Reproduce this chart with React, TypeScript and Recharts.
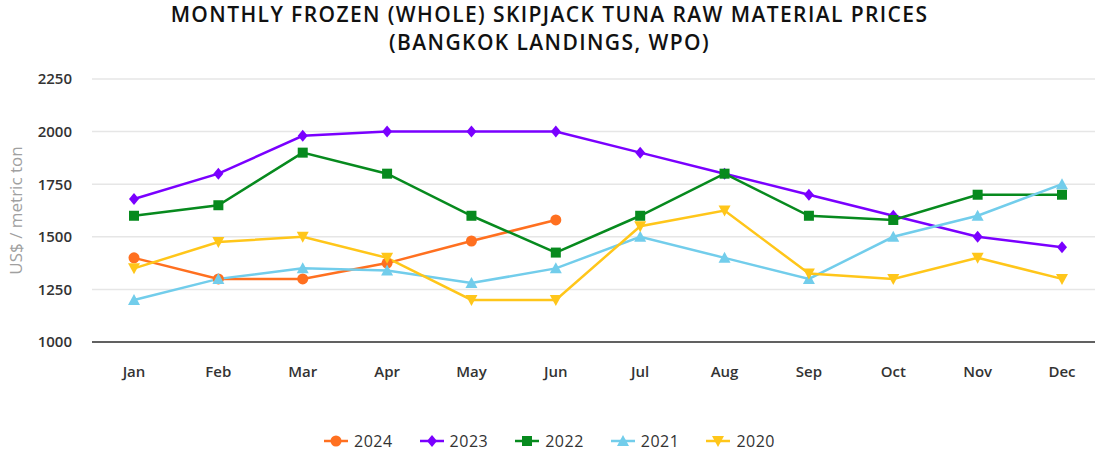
import React from 'react';
import { LineChart, Line, XAxis, YAxis, CartesianGrid } from 'recharts';

const months = ['Jan', 'Feb', 'Mar', 'Apr', 'May', 'Jun', 'Jul', 'Aug', 'Sep', 'Oct', 'Nov', 'Dec'];
const yTicks = [1000, 1250, 1500, 1750, 2000, 2250];

const p2024 = [1400, 1300, 1300, 1375, 1480, 1580, null, null, null, null, null, null];
const p2023 = [1680, 1800, 1980, 2000, 2000, 2000, 1900, 1800, 1700, 1600, 1500, 1450];
const p2022 = [1600, 1650, 1900, 1800, 1600, 1425, 1600, 1800, 1600, 1580, 1700, 1700];
const p2021 = [1200, 1300, 1350, 1340, 1280, 1350, 1500, 1400, 1300, 1500, 1600, 1750];
const p2020 = [1350, 1475, 1500, 1400, 1200, 1200, 1550, 1625, 1325, 1300, 1400, 1300];

const data = months.map((m, i) => ({
  month: m,
  y2024: p2024[i],
  y2023: p2023[i],
  y2022: p2022[i],
  y2021: p2021[i],
  y2020: p2020[i],
}));

type Shape = 'circle' | 'diamond' | 'square' | 'triangle' | 'triangle-down';

const series: { key: string; name: string; color: string; shape: Shape }[] = [
  { key: 'y2024', name: '2024', color: '#FF7020', shape: 'circle' },
  { key: 'y2023', name: '2023', color: '#7A00FF', shape: 'diamond' },
  { key: 'y2022', name: '2022', color: '#078A1E', shape: 'square' },
  { key: 'y2021', name: '2021', color: '#72CDEB', shape: 'triangle' },
  { key: 'y2020', name: '2020', color: '#FFC61A', shape: 'triangle-down' },
];

const marker = (shape: Shape, cx: number, cy: number, color: string, key?: string) => {
  switch (shape) {
    case 'circle':
      return <circle key={key} cx={cx} cy={cy} r={5.5} fill={color} />;
    case 'diamond':
      return <path key={key} d={`M${cx},${cy - 6} L${cx + 5},${cy} L${cx},${cy + 6} L${cx - 5},${cy} Z`} fill={color} />;
    case 'square':
      return <rect key={key} x={cx - 5} y={cy - 5} width={10} height={10} fill={color} />;
    case 'triangle':
      return <path key={key} d={`M${cx},${cy - 6} L${cx + 6},${cy + 5} L${cx - 6},${cy + 5} Z`} fill={color} />;
    default:
      return <path key={key} d={`M${cx - 6},${cy - 5} L${cx + 6},${cy - 5} L${cx},${cy + 6} Z`} fill={color} />;
  }
};

const makeDot = (shape: Shape, color: string) => (props: any) => {
  const { cx, cy, index, value } = props;
  if (value == null || cx == null || cy == null) return <g key={index} />;
  return marker(shape, cx, cy, color, `d${index}`);
};

const font = '"Open Sans", Arial, sans-serif';

const App: React.FC = () => {
  return (
    <div style={{ position: 'absolute', left: 0, top: 0, width: 1099, height: 454, background: '#fff', fontFamily: font }}>
      <div
        style={{
          position: 'absolute',
          top: 0,
          left: 0,
          width: 1099,
          textAlign: 'center',
          fontSize: 21,
          fontWeight: 600,
          lineHeight: '28px',
          color: '#111',
          letterSpacing: 1.4,
        }}
      >
        MONTHLY FROZEN (WHOLE) SKIPJACK TUNA RAW MATERIAL PRICES
        <br />
        (BANGKOK LANDINGS, WPO)
      </div>
      <div style={{ position: 'absolute', left: 0, top: 0 }}>
        <LineChart width={1099} height={454} data={data} margin={{ top: 79, right: 4, bottom: 52, left: 32 }}>
          <CartesianGrid vertical={false} stroke="#e6e6e6" strokeWidth={1.5} />
          <XAxis
            dataKey="month"
            height={60}
            padding={{ left: 42, right: 33 }}
            tickLine={false}
            tickSize={6}
            tickMargin={18}
            axisLine={{ stroke: '#333', strokeWidth: 1.5 }}
            tick={{ fill: '#333', fontSize: 15, fontWeight: 600, fontFamily: font }}
          />
          <YAxis
            width={60}
            domain={[1000, 2250]}
            ticks={yTicks}
            axisLine={false}
            tickLine={false}
            tickSize={6}
            tickMargin={14}
            tick={{ fill: '#333', fontSize: 15, fontWeight: 600, fontFamily: font }}
            label={{
              value: 'US$ / metric ton',
              angle: -90,
              position: 'insideLeft',
              offset: -16,
              style: { fill: '#a0a0a0', fontSize: 17, fontFamily: font, textAnchor: 'middle' },
            }}
          />
          {series.map((s) => (
            <Line
              key={s.key}
              dataKey={s.key}
              name={s.name}
              stroke={s.color}
              strokeWidth={2.5}
              dot={makeDot(s.shape, s.color)}
              activeDot={false}
              isAnimationActive={false}
              connectNulls={false}
            />
          ))}
        </LineChart>
      </div>
      <div
        style={{
          position: 'absolute',
          top: 430,
          left: 0,
          width: 1099,
          display: 'flex',
          justifyContent: 'center',
          gap: 27,
          fontSize: 16,
          fontWeight: 500,
          color: '#333',
          letterSpacing: 0.5,
        }}
      >
        {series.map((s) => (
          <div key={s.key} style={{ display: 'flex', alignItems: 'center', gap: 6 }}>
            <svg width={24} height={14}>
              <line x1={0} y1={7} x2={24} y2={7} stroke={s.color} strokeWidth={2.5} />
              {marker(s.shape, 12, 7, s.color)}
            </svg>
            <span>{s.name}</span>
          </div>
        ))}
      </div>
    </div>
  );
};

export default App;
